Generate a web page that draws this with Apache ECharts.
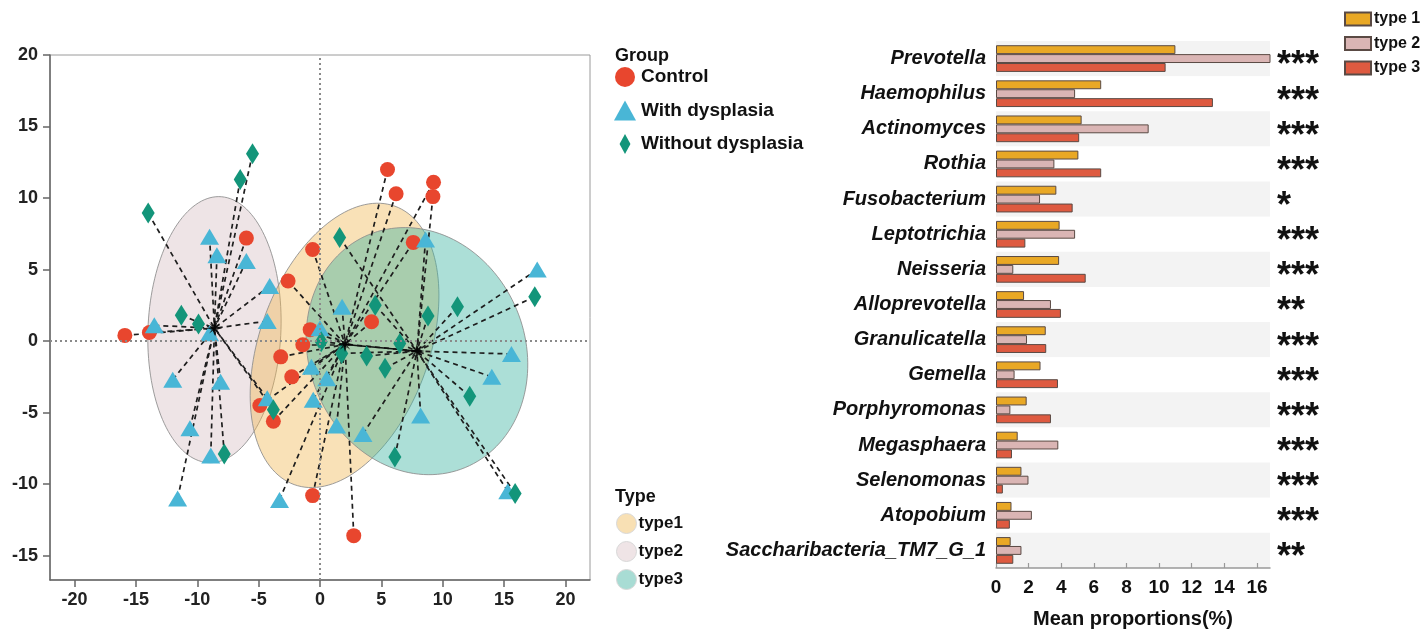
<!DOCTYPE html>
<html><head><meta charset="utf-8">
<script src="https://cdn.jsdelivr.net/npm/echarts@6/dist/echarts.min.js"></script>
<style>html,body{margin:0;padding:0;background:#fff}#c{width:1420px;height:634px}</style>
</head><body><div id="c"></div>
<script>
// ---------- Scatter (PCoA-like) data: [x, y, typeIndex]  (0 = type1, 1 = type2, 2 = type3)
const controlPts = [
  [-6.0,7.2,1],[-13.9,0.6,1],[-15.9,0.4,1],
  [5.5,12.0,0],[6.2,10.3,0],[9.25,11.1,0],[9.2,10.1,2],[-0.6,6.4,0],[7.6,6.9,0],
  [-2.6,4.2,0],[4.2,1.35,0],[-0.8,0.8,0],[-1.4,-0.25,0],[-3.2,-1.1,0],[-2.3,-2.5,0],
  [-4.9,-4.5,0],[-3.8,-5.6,0],[-0.6,-10.8,0],[2.75,-13.6,0]
];
const withDysplasiaPts = [
  [-9.0,7.3,1],[-8.4,6.0,1],[-6.0,5.6,1],[-4.1,3.85,1],[-4.3,1.4,1],[-13.5,1.1,1],
  [-9.0,0.55,1],[-12.0,-2.7,1],[-8.1,-2.85,1],[-10.6,-6.1,1],[-8.9,-8.0,1],[-11.6,-11.0,1],
  [-4.3,-4.0,1],[-3.3,-11.1,0],[8.6,7.1,2],[17.7,5.0,2],[1.8,2.4,0],[0.0,0.9,0],
  [-0.7,-1.8,0],[0.55,-2.6,0],[-0.55,-4.1,0],[1.35,-5.9,0],[3.5,-6.5,2],[8.2,-5.2,2],
  [15.6,-0.9,2],[14.0,-2.5,2],[15.3,-10.5,2]
];
const withoutDysplasiaPts = [
  [-5.5,13.1,1],[-6.5,11.3,1],[-14.0,8.95,1],[-11.3,1.8,1],[-9.9,1.2,1],[-7.8,-7.9,1],
  [-3.8,-4.8,1],[1.6,7.25,2],[17.5,3.1,2],[4.5,2.5,2],[8.8,1.75,2],[11.2,2.4,2],
  [0.1,-0.05,2],[1.77,-0.86,2],[3.8,-1.05,2],[6.5,-0.17,2],[5.3,-1.9,2],[12.2,-3.85,2],
  [6.1,-8.1,2],[15.9,-10.65,2]
];
const groupNames = ['Control','With dysplasia','Without dysplasia'];
const typeNames = ['type1','type2','type3'];
const typeCentroids = [[2.04,-0.23],[-8.6,0.9],[7.9,-0.7]];
// ellipse: [cx, cy, u_x, u_y, v_x, v_y]  (conjugate semi-axes in data units)
const typeEllipses = [
  [2.0,-0.3,4.11,9.73,6.50,-2.03],
  [-8.6,0.8,0.35,9.3,5.42,0],
  [7.9,-0.7,-3.93,8.14,8.13,2.89]
];
const scatterXTicks = [-20,-15,-10,-5,0,5,10,15,20];
const scatterYTicks = [-15,-10,-5,0,5,10,15,20];

// ---------- Bar chart data
const genera = ['Prevotella','Haemophilus','Actinomyces','Rothia','Fusobacterium','Leptotrichia',
  'Neisseria','Alloprevotella','Granulicatella','Gemella','Porphyromonas','Megasphaera',
  'Selenomonas','Atopobium','Saccharibacteria_TM7_G_1'];
const barTypeNames = ['type 1','type 2','type 3'];
const type1Means = [11.0,6.45,5.25,5.05,3.7,3.9,3.87,1.72,3.05,2.73,1.88,1.33,1.56,0.95,0.9];
const type2Means = [17.2,4.85,9.36,3.58,2.7,4.85,1.06,3.37,1.9,1.14,0.88,3.82,1.99,2.2,1.56];
const type3Means = [10.4,13.3,5.1,6.45,4.7,1.8,5.5,3.98,3.08,3.8,3.37,0.98,0.42,0.85,1.06];
const significance = ['***','***','***','***','*','***','***','**','***','***','***','***','***','***','**'];
const barXTicks = [0,2,4,6,8,10,12,14,16];

// ---------- styling
const FONT = '"Liberation Sans", Arial, Helvetica, sans-serif';
const groupColors = ['#E8462E','#49B6D6','#13957A'];
const groupSymbols = ['circle','triangle','diamond'];
const groupSizes = [15,[19,16],[13,21]];
const ellipseFill = ['rgba(239,180,74,0.40)','rgba(205,175,181,0.34)','rgba(58,178,160,0.42)'];
const ellipseLegend = ['#F8E0B4','#EFE4E6','#A8DCD4'];
const barColors = ['#E9A825','#DAB5B4','#DE5A40'];
const starPath = 'path://M10,0 L12.77,8.85 L17.07,2.93 L11.15,7.23 L20,10 L11.15,12.77 L17.07,17.07 L12.77,11.15 L10,20 L7.23,11.15 L2.93,17.07 L8.85,12.77 L0,10 L8.85,7.23 L2.93,2.93 L7.23,8.85 Z';

const groupData = [controlPts, withDysplasiaPts, withoutDysplasiaPts];

const chart = echarts.init(document.getElementById('c'), null, {renderer:'canvas'});

function ellipseRender(fill){
  return function(params, api){
    const cx=api.value(0), cy=api.value(1), ux=api.value(2), uy=api.value(3), vx=api.value(4), vy=api.value(5);
    const pts=[];
    for(let k=0;k<144;k++){
      const t=k/144*2*Math.PI;
      pts.push(api.coord([cx+ux*Math.cos(t)+vx*Math.sin(t), cy+uy*Math.cos(t)+vy*Math.sin(t)]));
    }
    return {type:'polygon', shape:{points:pts}, style:{fill:fill, stroke:'rgba(140,140,140,0.85)', lineWidth:1}};
  };
}

const series = [];
[1,0,2].forEach(function(i){
  series.push({
    type:'custom', name:typeNames[i], xAxisIndex:0, yAxisIndex:0, z:1,
    itemStyle:{color:ellipseLegend[i]},
    renderItem: ellipseRender(ellipseFill[i]),
    data:[typeEllipses[i]], silent:true
  });
});
series.push({
  type:'scatter', name:'zero', xAxisIndex:0, yAxisIndex:0, data:[], z:2, silent:true,
  markLine:{silent:true, symbol:'none', label:{show:false}, animation:false,
    lineStyle:{type:[2,3], color:'#8a8a8a', width:2},
    data:[{xAxis:0},{yAxis:0}]}
});
const spokes = [];
groupData.forEach(function(arr){
  arr.forEach(function(p){ spokes.push({coords:[[p[0],p[1]], typeCentroids[p[2]]]}); });
});
series.push({
  type:'lines', coordinateSystem:'cartesian2d', xAxisIndex:0, yAxisIndex:0, z:3, silent:true,
  lineStyle:{color:'#1e1e1e', width:1.7, type:[5,4], opacity:1}, data:spokes
});
series.push({
  type:'lines', coordinateSystem:'cartesian2d', xAxisIndex:0, yAxisIndex:0, z:3, silent:true,
  lineStyle:{color:'#111', width:1.5, type:'solid', opacity:1},
  data:[{coords:[typeCentroids[0], typeCentroids[2]]}]
});
groupNames.forEach(function(n,i){
  series.push({
    type:'scatter', name:n, xAxisIndex:0, yAxisIndex:0, z:4,
    symbol:groupSymbols[i], symbolSize:groupSizes[i],
    itemStyle:{color:groupColors[i], opacity:1},
    data:groupData[i].map(function(p){return [p[0],p[1]];})
  });
});
series.push({
  type:'scatter', name:'centroid', xAxisIndex:0, yAxisIndex:0, z:5,
  symbol:starPath, symbolSize:15, itemStyle:{color:'#000'}, data:typeCentroids
});
[type1Means,type2Means,type3Means].forEach(function(arr,i){
  series.push({
    type:'bar', name:barTypeNames[i], xAxisIndex:1, yAxisIndex:1,
    data:arr, barGap:'0%', barCategoryGap:'24%',
    itemStyle:{color:barColors[i], borderColor:'#5a4a44', borderWidth:1}
  });
});

const option = {
  backgroundColor:'#ffffff',
  animation:false,
  textStyle:{fontFamily:FONT},
  title:[
    {text:'Group', left:610, top:42, textStyle:{fontFamily:FONT, fontSize:18, fontWeight:'bold', color:'#111'}},
    {text:'Type', left:610, top:483, textStyle:{fontFamily:FONT, fontSize:18, fontWeight:'bold', color:'#111'}}
  ],
  legend:[
    {data:[{name:'Control', icon:'circle'},{name:'With dysplasia', icon:'triangle'},
           {name:'Without dysplasia', icon:'path://M6,0 L12,11 L6,22 L0,11 Z'}],
     left:609, top:62, orient:'vertical', itemWidth:22, itemHeight:20, itemGap:13.5,
     textStyle:{fontFamily:FONT, fontSize:19, fontWeight:'bold', color:'#111'}, selectedMode:false},
    {data:typeNames.map(function(n,i){return {name:n, icon:'circle', itemStyle:{color:ellipseLegend[i], borderColor:'#d8d8d8', borderWidth:1}};}),
     left:611, top:508, orient:'vertical', itemWidth:20, itemHeight:20, itemGap:7,
     textStyle:{fontFamily:FONT, fontSize:17, fontWeight:'bold', color:'#111', padding:[0,0,0,-3]}, selectedMode:false},
    {data:barTypeNames, left:1339, top:6, orient:'vertical', itemWidth:26, itemHeight:13, itemGap:8.5, icon:'rect',
     textStyle:{fontFamily:FONT, fontSize:16, fontWeight:'bold', color:'#111', padding:[0,0,0,-2]}, selectedMode:false}
  ],
  grid:[
    {left:50, right:830, top:55, bottom:54, show:true, borderColor:'#9a9a9a', borderWidth:1, backgroundColor:'transparent'},
    {left:996, right:150, top:41, bottom:56}
  ],
  xAxis:[
    {gridIndex:0, type:'value', min:-22, max:22,
     axisLine:{show:true, onZero:false, lineStyle:{color:'#666', width:1.5}},
     axisTick:{show:true, length:7, customValues:scatterXTicks, lineStyle:{color:'#666', width:1.5}},
     axisLabel:{customValues:scatterXTicks, fontFamily:FONT, fontSize:18, fontWeight:'bold', color:'#222', margin:11},
     splitLine:{show:false}},
    {gridIndex:1, type:'value', min:0, max:16.8,
     axisLine:{show:true, lineStyle:{color:'#999', width:1.5}},
     axisTick:{show:true, inside:true, length:5, customValues:barXTicks, lineStyle:{color:'#999', width:1.2}},
     axisLabel:{customValues:barXTicks, fontFamily:FONT, fontSize:19, fontWeight:'bold', color:'#111', margin:10},
     splitLine:{show:false},
     name:'Mean proportions(%)', nameLocation:'middle', nameGap:41,
     nameTextStyle:{fontFamily:FONT, fontSize:20, fontWeight:'bold', color:'#111'}}
  ],
  yAxis:[
    {gridIndex:0, type:'value', min:-16.7, max:20,
     axisLine:{show:true, onZero:false, lineStyle:{color:'#666', width:1.5}},
     axisTick:{show:true, length:7, customValues:scatterYTicks, lineStyle:{color:'#666', width:1.5}},
     axisLabel:{customValues:scatterYTicks, fontFamily:FONT, fontSize:18, fontWeight:'bold', color:'#222', margin:12},
     splitLine:{show:false}},
    {gridIndex:1, type:'category', data:genera, inverse:true,
     axisLine:{show:false}, axisTick:{show:false},
     axisLabel:{interval:0, fontFamily:FONT, fontSize:20, fontWeight:'bold', fontStyle:'italic', color:'#111', margin:10},
     splitArea:{show:true, interval:0, areaStyle:{color:['#f3f3f3','#ffffff']}},
     splitLine:{show:false}},
    {gridIndex:1, type:'category', data:genera, inverse:true, position:'right',
     axisLine:{show:false}, axisTick:{show:false}, splitLine:{show:false},
     axisLabel:{interval:0, hideOverlap:false, fontFamily:FONT, fontSize:36, fontWeight:'bold', color:'#111', margin:7, align:'left',
       verticalAlign:'top', lineHeight:16, formatter:function(v,i){return significance[i];}}}
  ],
  series:series
};
chart.setOption(option);
</script></body></html>
